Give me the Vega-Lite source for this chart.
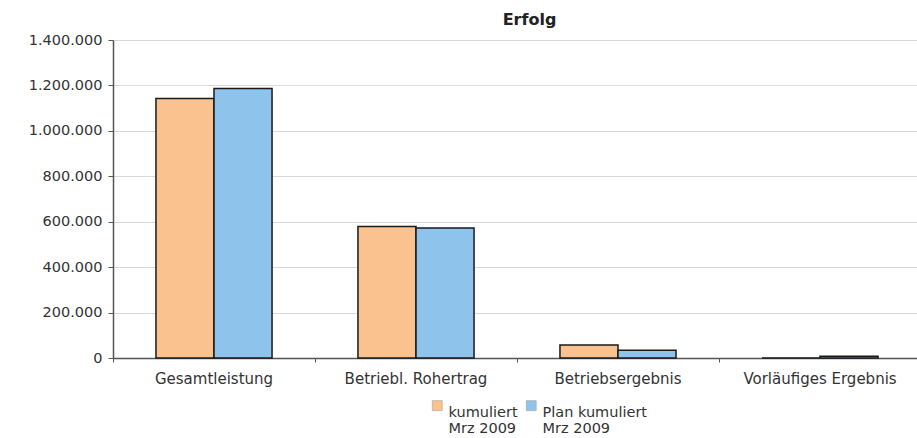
{
  "$schema": "https://vega.github.io/schema/vega-lite/v6.json",
  "autosize": "none",
  "padding": {"left": 113, "top": 40, "right": 0, "bottom": 80},
  "width": 808,
  "height": 318,
  "background": "white",
  "config": {
    "locale": {"number": {"decimal": ",", "thousands": ".", "grouping": [3], "currency": ["", " €"]}},
    "view": {"stroke": null},
    "font": "DejaVu Sans"
  },
  "data": {"values": [
    {"kategorie": "Gesamtleistung", "serie": "kumuliert Mrz 2009", "wert": 1142000},
    {"kategorie": "Gesamtleistung", "serie": "Plan kumuliert Mrz 2009", "wert": 1187000},
    {"kategorie": "Betriebl. Rohertrag", "serie": "kumuliert Mrz 2009", "wert": 579000},
    {"kategorie": "Betriebl. Rohertrag", "serie": "Plan kumuliert Mrz 2009", "wert": 572000},
    {"kategorie": "Betriebsergebnis", "serie": "kumuliert Mrz 2009", "wert": 57000},
    {"kategorie": "Betriebsergebnis", "serie": "Plan kumuliert Mrz 2009", "wert": 34000},
    {"kategorie": "Vorläufiges Ergebnis", "serie": "kumuliert Mrz 2009", "wert": 0},
    {"kategorie": "Vorläufiges Ergebnis", "serie": "Plan kumuliert Mrz 2009", "wert": 8000}
  ]},
  "layer": [
    {
      "mark": {"type": "bar", "stroke": "#1a1a1a", "strokeWidth": 1.5},
      "encoding": {
        "x": {"field": "kategorie", "type": "nominal", "sort": ["Gesamtleistung", "Betriebl. Rohertrag", "Betriebsergebnis", "Vorläufiges Ergebnis"],
          "scale": {"paddingInner": 0, "paddingOuter": 0},
          "axis": {"title": null, "orient": "bottom", "labelAngle": 0, "ticks": false, "domain": true, "domainColor": "#555", "domainWidth": 1.5, "labelFontSize": 15, "labelColor": "#333", "labelPadding": 13, "grid": false}},
        "xOffset": {"field": "serie", "type": "nominal", "scale": {"domain": ["kumuliert Mrz 2009", "Plan kumuliert Mrz 2009"], "paddingInner": 0, "paddingOuter": 0.74}},
        "y": {"field": "wert", "type": "quantitative", "scale": {"domain": [0, 1400000], "nice": false},
          "axis": {"title": null, "values": [0, 200000, 400000, 600000, 800000, 1000000, 1200000, 1400000], "format": ",d", "labelFontSize": 14.5, "labelColor": "#333", "domainColor": "#555", "domainWidth": 1.5, "tickColor": "#555", "tickSize": 5, "gridColor": "#d9d9d9", "gridWidth": 1, "labelPadding": 6}},
        "color": {"field": "serie", "type": "nominal",
          "scale": {"domain": ["kumuliert Mrz 2009", "Plan kumuliert Mrz 2009"], "range": ["#F9C28F", "#8EC3EC"]},
          "legend": {"title": null, "orient": "none", "legendX": 317, "legendY": 358, "direction": "horizontal", "symbolType": "square", "symbolSize": 100, "symbolStrokeColor": "#999", "symbolStrokeWidth": 0.5, "labelFontSize": 14.5, "labelColor": "#333", "labelOffset": 4, "columnPadding": 6, "labelBaseline": "top",
            "labelExpr": "[replace(datum.label, ' Mrz 2009', ''), 'Mrz 2009']"}}
      }
    },
    {
      "mark": {"type": "bar", "opacity": 0},
      "encoding": {
        "x": {"field": "kategorie", "type": "nominal", "sort": ["Gesamtleistung", "Betriebl. Rohertrag", "Betriebsergebnis", "Vorläufiges Ergebnis"],
          "axis": {"title": null, "orient": "bottom", "labels": false, "domain": false, "ticks": true, "tickSize": 4, "tickColor": "#555", "bandPosition": 0, "grid": false}},
        "y": {"field": "wert", "type": "quantitative"}
      }
    },
    {
      "mark": {"type": "bar", "opacity": 0},
      "encoding": {
        "x": {"field": "kategorie", "type": "nominal", "sort": ["Gesamtleistung", "Betriebl. Rohertrag", "Betriebsergebnis", "Vorläufiges Ergebnis"],
          "axis": {"title": "Erfolg", "orient": "top", "labels": false, "domain": false, "ticks": false, "grid": false, "titleFont": "DejaVu Sans", "titleFontSize": 16, "titleFontWeight": "bold", "titleColor": "#222", "titlePadding": 13, "titleX": 416, "titleAlign": "center"}},
        "y": {"field": "wert", "type": "quantitative"}
      }
    }
  ],
  "resolve": {"axis": {"x": "independent"}}
}
